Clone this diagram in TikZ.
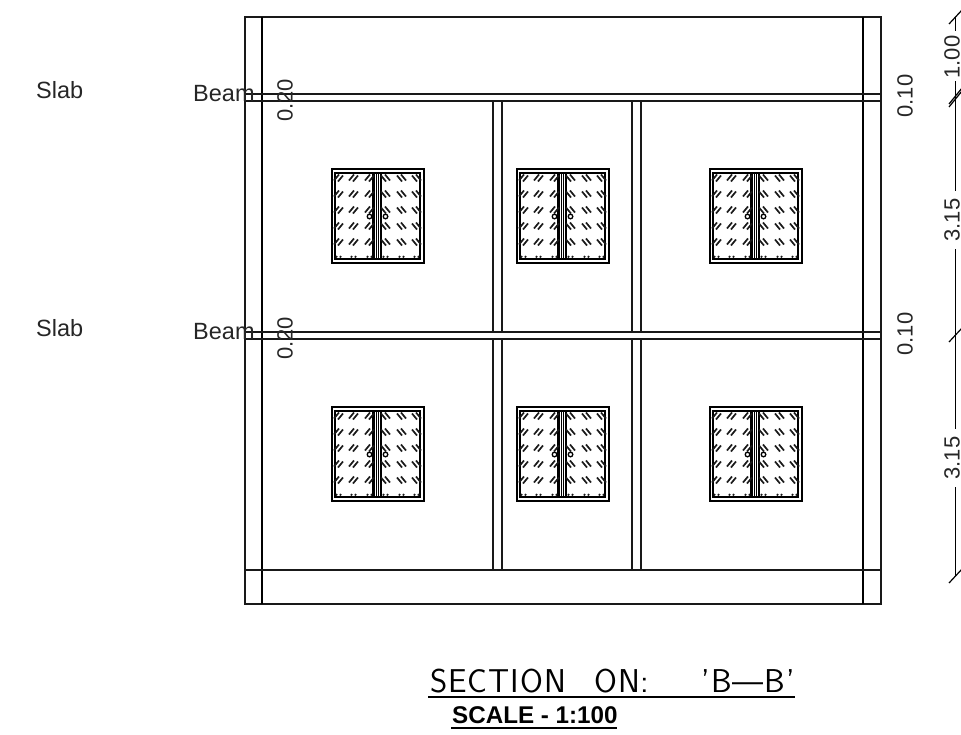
\documentclass[tikz,border=0pt]{standalone}
\usepackage{fontspec}
\setmainfont{Liberation Sans}
\newfontfamily\titlefont[LetterSpace=3]{Latin Modern Sans}
\tikzset{
  wall/.style={line width=2pt,black!90},
  thick wall/.style={line width=2.6pt,black},
  hatch/.style={line width=1.7pt,black!90},
  dimline/.style={line width=1.2pt,black},
  lbl/.style={inner sep=0pt,font=\fontsize{22}{22}\selectfont,text=black!85},
  nameL/.style={inner sep=0pt,font=\fontsize{23.5}{23.5}\selectfont,text=black!85},
  win/.pic={
    \draw[line width=2pt] (-46,-47) rectangle (46,47);
    \draw[line width=2.4pt] (-42.5,-43) rectangle (42.5,43);
    \draw[line width=2.4pt] (-4,-43) -- (-4,43) (3.5,-43) -- (3.5,43);
    \draw[line width=1pt] (-1,-43) -- (-1,43) (1,-43) -- (1,43);
    \foreach \yy in {-38,-22,-6,10,26}{
      \foreach \xx in {-39,-24,-8}{
        \draw[hatch] (\xx-4.5,\yy+2.5) -- (\xx+0.5,\yy-3.5) (\xx-0.5,\yy+3.5) -- (\xx+4.5,\yy-2.5);
      }
      \foreach \xx in {8,24,39}{
        \draw[hatch] (\xx+4.5,\yy+2.5) -- (\xx-0.5,\yy-3.5) (\xx+0.5,\yy+3.5) -- (\xx-4.5,\yy-2.5);
      }
    }
    \draw[line width=1.3pt] (-8,0.5) circle (2.3) (8,0.5) circle (2.3);
    \foreach \xx in {-39,-24,-8,8,24,39}{\draw[hatch] (\xx-2.5,41.5) -- (\xx-1.5,40) (\xx+1.5,41.5) -- (\xx+2.5,40);}
  }
}
\begin{document}
\begin{tikzpicture}[x=1pt,y=-1pt]
\useasboundingbox (0,0) rectangle (961,734);
\begin{scope}
\clip (0,0) rectangle (961,734);
% frame
\draw[wall] (245,17) rectangle (881,604);
\draw[thick wall] (262,17) -- (262,604) (863,17) -- (863,604);
\draw[wall] (245,94) -- (881,94) (245,101) -- (881,101);
\draw[wall] (245,332) -- (881,332) (245,339) -- (881,339);
\draw[wall] (245,570) -- (881,570);
% interior walls
\foreach \xa in {493,502,632,641}{
  \draw[wall] (\xa,101) -- (\xa,332) (\xa,339) -- (\xa,570);
}
% windows
\foreach \cx in {377.5,562.5,755.5}{
  \path (\cx,216) pic {win};
  \path (\cx,454) pic {win};
}
% labels
\node[nameL,anchor=west] (s1) at (36,90) {Slab};
\node[nameL,anchor=west] (s2) at (36,328) {Slab};
\node[nameL,anchor=west] (b1) at (193,94) {Beam};
\node[nameL,anchor=west] (b2) at (193,332) {Beam};
\node[lbl,rotate=90] (d1) at (285,100.5) {0.20};
\node[lbl,rotate=90] (d2) at (285,338.5) {0.20};
\node[lbl,rotate=90] (d3) at (905,96) {0.10};
\node[lbl,rotate=90] (d4) at (905,334) {0.10};
\node[lbl,rotate=90] (d5) at (952,57) {1.00};
\node[lbl,rotate=90] (d6) at (952,220) {3.15};
\node[lbl,rotate=90] (d7) at (952,458) {3.15};
% dimension string
\coordinate (t0) at (955.5,17);
\coordinate (t1) at (955.5,97);
\coordinate (t2) at (955.5,335);
\coordinate (t3) at (955.5,576);
\draw[dimline] (t0) -- (955.5,31) (955.5,81) -- (t1) -- (955.5,191) (955.5,249) -- (t2) -- (955.5,429) (955.5,487) -- (t3);
\foreach \tk in {t0,t2,t3}{
  \draw[dimline] ([shift={(-6.5,7)}]\tk) -- ([shift={(6.5,-7)}]\tk);
}
\draw[dimline] ([shift={(-6.5,10)}]t1) -- ([shift={(6.5,-6)}]t1) ([shift={(-6.5,7)}]t1) -- ([shift={(6.5,-9)}]t1);
% titles
\node[inner sep=0pt,anchor=base west,text=black] (title) at (430,692) {\titlefont\fontsize{33}{33}\selectfont SECTION\hspace{28pt}ON:\hspace{52pt}’B—B’};
\draw[line width=2pt] (428,696.5) -- (795,696.5);
\node[inner sep=0pt,anchor=base west] (scale) at (452,723) {\fontsize{24.2}{24.2}\selectfont\bfseries SCALE - 1:100};
\draw[line width=2pt] (451,727.5) -- (617,727.5);
\end{scope}
\end{tikzpicture}
\end{document}
